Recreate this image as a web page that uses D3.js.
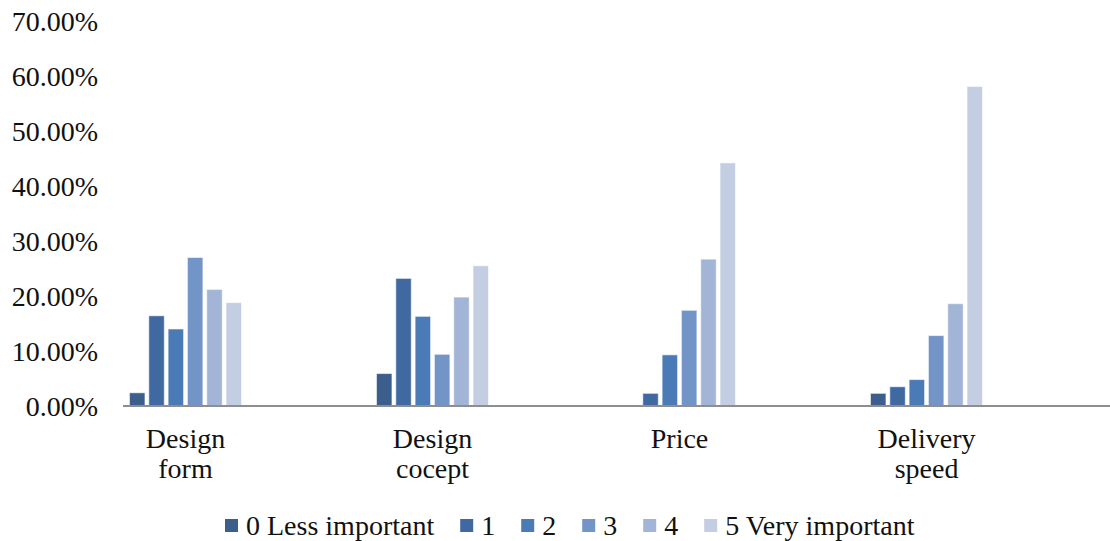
<!DOCTYPE html>
<html>
<head>
<meta charset="utf-8">
<script src="https://cdn.jsdelivr.net/npm/d3@7"></script>
<style>
  html, body { margin: 0; padding: 0; background: #ffffff; }
  svg { display: block; }
  text { font-family: "Liberation Serif", "Times New Roman", serif; fill: #111111; }
</style>
</head>
<body>
<svg id="chart" width="1110" height="541"></svg>
<script>
// Importance ratings (share of respondents, %) per purchase factor
const categories = [["Design", "form"], ["Design", "cocept"], ["Price"], ["Delivery", "speed"]];
const seriesNames = ["0 Less important", "1", "2", "3", "4", "5 Very important"];
const designForm     = [2.4, 16.4, 14.0, 27.0, 21.2, 18.8];
const designConcept  = [5.9, 23.2, 16.3, 9.4, 19.8, 25.5];
const price          = [0.0, 2.3, 9.3, 17.4, 26.7, 44.2];
const deliverySpeed  = [2.3, 3.5, 4.8, 12.8, 18.6, 58.1];
const yTicks = [0, 10, 20, 30, 40, 50, 60, 70];
const seriesColors = ["#3b5e8c", "#3f69a0", "#4a7bb7", "#7394c6", "#a2b5d6", "#c3cee3"];

const values = [designForm, designConcept, price, deliverySpeed];
const catKeys = categories.map(c => c.join(" "));

const svg = d3.select("#chart");

const x0 = d3.scaleBand().domain(catKeys).range([62, 1050]).paddingInner(0).paddingOuter(0);
const x1 = d3.scaleBand().domain(seriesNames).range([-56, 56]).paddingInner(0.2).paddingOuter(0);
const y = d3.scaleLinear().domain([0, 70]).range([406, 21]);

// Y tick labels
const yAxis = d3.axisLeft(y).tickValues(yTicks).tickSize(0).tickPadding(0)
  .tickFormat(d => d.toFixed(2) + "%");
const gy = svg.append("g").attr("transform", "translate(98,0)").call(yAxis);
gy.select(".domain").remove();
gy.selectAll("text")
  .style("font-family", "'Liberation Serif', serif")
  .style("font-size", "28px")
  .attr("fill", "#111111")
  .attr("dy", "0.34em");

// Bars
const groups = svg.append("g").selectAll("g")
  .data(catKeys)
  .join("g")
  .attr("transform", d => `translate(${x0(d) + x0.bandwidth() / 2},0)`);

groups.selectAll("rect")
  .data((d, i) => seriesNames.map((s, j) => ({ s, j, v: values[i][j] })))
  .join("rect")
  .filter(d => d.v > 0)
  .attr("x", d => x1(d.s))
  .attr("width", x1.bandwidth())
  .attr("y", d => y(d.v))
  .attr("height", d => y(0) - y(d.v))
  .attr("fill", d => seriesColors[d.j])
  .attr("stroke", "rgba(255,255,255,0.55)")
  .attr("stroke-width", 1);

// Category axis line
svg.append("line")
  .attr("x1", 123).attr("x2", 1110)
  .attr("y1", y(0)).attr("y2", y(0))
  .attr("stroke", "#8e8e8e").attr("stroke-width", 2);

// Category labels (wrapped onto two lines)
const catLabels = svg.append("g").selectAll("text")
  .data(categories)
  .join("text")
  .attr("text-anchor", "middle")
  .style("font-size", "28px")
  .attr("transform", (d, i) => `translate(${x0(catKeys[i]) + x0.bandwidth() / 2},448)`);
catLabels.selectAll("tspan")
  .data(d => d)
  .join("tspan")
  .attr("x", 0)
  .attr("y", (d, i) => i * 30)
  .text(d => d);

// Legend
const legend = svg.append("g").attr("transform", "translate(225,0)");
let lx = 0;
seriesNames.forEach((name, i) => {
  const item = legend.append("g").attr("transform", `translate(${lx},0)`);
  item.append("rect")
    .attr("x", 0).attr("y", 519)
    .attr("width", 13).attr("height", 13)
    .attr("fill", seriesColors[i]);
  const t = item.append("text")
    .attr("x", 21).attr("y", 535)
    .style("font-size", "28px")
    .text(name);
  lx += 21 + t.node().getComputedTextLength() + 26;
});
</script>
</body>
</html>
